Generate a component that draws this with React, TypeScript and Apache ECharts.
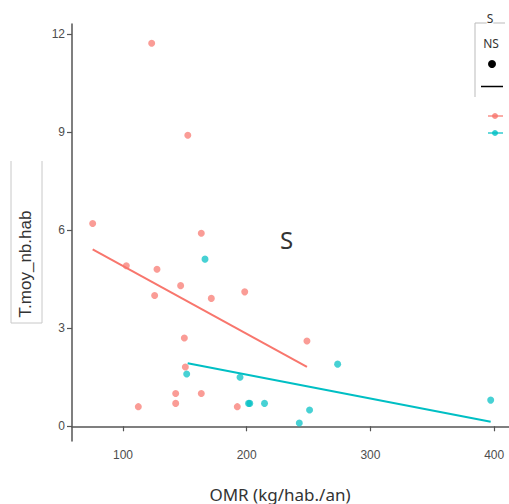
import React, { useEffect, useRef } from "react";
import * as echarts from "echarts";

const pinkX = [123.2, 152.4, 75.5, 163.3, 102.7, 127.5, 146.6, 125.6, 171.4, 198.4, 149.6, 248.7, 150.4, 142.6, 163.3, 142.6, 112.4, 192.4];
const pinkY = [11.71, 8.9, 6.2, 5.9, 4.91, 4.8, 4.3, 4.0, 3.91, 4.11, 2.7, 2.61, 1.81, 1.0, 1.0, 0.7, 0.6, 0.6];
const cyanX = [166.3, 151.5, 194.6, 201.5, 202.5, 214.4, 242.5, 250.8, 273.5, 397.2];
const cyanY = [5.11, 1.6, 1.5, 0.7, 0.7, 0.7, 0.1, 0.5, 1.9, 0.8];
const pinkTrendX = [75.5, 248.7];
const pinkTrendY = [5.41, 1.82];
const cyanTrendX = [152.3, 397.2];
const cyanTrendY = [1.93, 0.14];
const xTicks = [100, 200, 300, 400];
const yTicks = [0, 3, 6, 9, 12];

const PINK = "#F8766D";
const CYAN = "#00BFC4";

const zip = (xs: number[], ys: number[]) => xs.map((x, i) => [x, ys[i]]);

export default function App() {
  const ref = useRef<HTMLDivElement>(null);
  useEffect(() => {
    const chart = echarts.init(ref.current!, null, { renderer: "svg" });
    const axisCommon = {
      axisLine: { show: true, lineStyle: { color: "#555", width: 1.5 } },
      axisTick: { show: true, length: 5, lineStyle: { color: "#555", width: 1.2 } },
      splitLine: { show: false },
    };
    chart.setOption({
      animation: false,
      grid: { left: 72, right: 0, top: 24, bottom: 63 },
      xAxis: {
        type: "value",
        min: 58.8,
        max: 412,
        ...axisCommon,
        axisTick: { ...axisCommon.axisTick, customValues: xTicks },
        axisLabel: {
          customValues: xTicks,
          color: "#4d4d4d",
          fontSize: 12,
          fontFamily: "Liberation Sans",
          margin: 8,
        },
      },
      yAxis: {
        type: "value",
        min: -0.45,
        max: 12.3,
        ...axisCommon,
        axisTick: { ...axisCommon.axisTick, customValues: yTicks },
        axisLabel: {
          customValues: yTicks,
          color: "#4d4d4d",
          fontSize: 12,
          fontFamily: "Liberation Sans",
          margin: 7,
        },
      },
      series: [
        {
          type: "scatter",
          data: zip(pinkX, pinkY),
          symbolSize: 7,
          itemStyle: { color: PINK, opacity: 0.72 },
          z: 2,
        },
        {
          type: "scatter",
          data: zip(cyanX, cyanY),
          symbolSize: 7,
          itemStyle: { color: CYAN, opacity: 0.72 },
          z: 2,
        },
        {
          type: "line",
          data: zip(pinkTrendX, pinkTrendY),
          showSymbol: false,
          lineStyle: { color: PINK, width: 2 },
          z: 3,
        },
        {
          type: "line",
          data: zip(cyanTrendX, cyanTrendY),
          showSymbol: false,
          lineStyle: { color: CYAN, width: 2 },
          z: 3,
        },
      ],
      graphic: [
        {
          type: "text",
          x: 286.5,
          y: 239,
          style: { text: "S", fontSize: 24, fontFamily: "Noto Sans", fill: "#333", align: "center", verticalAlign: "middle" },
        },
        {
          type: "text",
          x: 280,
          y: 494,
          style: { text: "OMR (kg/hab./an)", fontSize: 17, fontFamily: "Noto Sans", fill: "#333", align: "center", verticalAlign: "middle" },
        },
        {
          type: "polyline",
          shape: { points: [[11, 161], [11, 323], [42, 323], [42, 161]] },
          style: { stroke: "#c8c8c8", lineWidth: 1, fill: "none" },
        },
        {
          type: "group",
          x: 25,
          y: 264,
          rotation: Math.PI / 2,
          children: [
            {
              type: "text",
              x: 0,
              y: 0,
              style: {
                text: "T.moy_nb.hab",
                fontSize: 17,
                fontFamily: "Liberation Sans",
                fill: "#333",
                align: "center",
                textAlign: "center",
                verticalAlign: "middle",
                textVerticalAlign: "middle",
              },
            },
          ],
        },
        {
          type: "polyline",
          shape: { points: [[475, 97], [475, 23], [505, 23]] },
          style: { stroke: "#bbb", lineWidth: 1, fill: "none" },
        },
        {
          type: "text",
          x: 490,
          y: 18,
          style: { text: "S", fontSize: 12, fontFamily: "Noto Sans", fill: "#333", align: "center", verticalAlign: "middle", backgroundColor: "#fff" },
        },
        {
          type: "text",
          x: 491,
          y: 43,
          style: { text: "NS", fontSize: 12, fontFamily: "Noto Sans", fill: "#333", align: "center", verticalAlign: "middle" },
        },
        { type: "circle", shape: { cx: 492, cy: 64, r: 4 }, style: { fill: "#000" } },
        { type: "line", shape: { x1: 481, y1: 86.5, x2: 503, y2: 86.5 }, style: { stroke: "#000", lineWidth: 1.5 } },
        { type: "line", shape: { x1: 488, y1: 116, x2: 503, y2: 116 }, style: { stroke: PINK, lineWidth: 1.5, opacity: 0.8 } },
        { type: "circle", shape: { cx: 495, cy: 116, r: 3 }, style: { fill: PINK, opacity: 0.8 } },
        { type: "line", shape: { x1: 488, y1: 133, x2: 503, y2: 133 }, style: { stroke: CYAN, lineWidth: 1.5, opacity: 0.8 } },
        { type: "circle", shape: { cx: 495, cy: 133, r: 3 }, style: { fill: CYAN, opacity: 0.8 } },
      ],
    });
    return () => chart.dispose();
  }, []);
  return <div ref={ref} style={{ width: 509, height: 504, position: "absolute", left: 0, top: 0 }} />;
}
